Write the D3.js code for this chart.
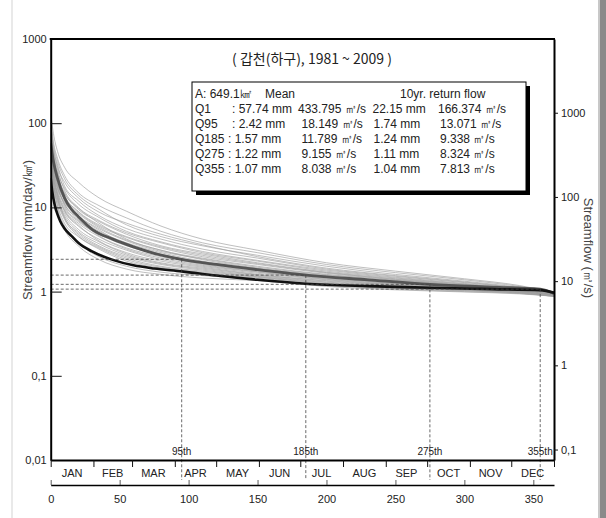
<!DOCTYPE html>
<html><head><meta charset="utf-8">
<script src="https://cdn.jsdelivr.net/npm/d3@7"></script>
<style>body{margin:0;background:#fff;} svg{display:block}</style>
</head><body><svg id="c" width="606" height="518"></svg>
<script>
// ---------------- DATA ----------------
const basinArea = 649.1; // km2
const titleText = "( 갑천(하구), 1981 ~ 2009 )";
const gridDays = [0, 2, 5, 10, 20, 35, 55, 80, 110, 150, 200, 250, 300, 340, 365];
const yearlyCurves = [
  [130, 75, 46, 30, 20, 13, 9.0, 6.0, 4.2, 3.1, 2.2, 1.75, 1.42, 1.18, 0.98],
  [110, 60, 38, 24, 15, 10.5, 7.5, 5.2, 3.8, 2.9, 2.1, 1.68, 1.38, 1.15, 0.97],
  [95, 55, 35, 22, 14, 9.5, 6.2, 4.5, 3.5, 2.7, 2.0, 1.6, 1.33, 1.12, 0.96],
  [88, 50, 30, 20, 13, 8.8, 6.5, 4.8, 3.6, 2.6, 1.9, 1.55, 1.3, 1.1, 0.95],
  [80, 48, 32, 18, 12, 8.0, 5.6, 4.2, 3.2, 2.5, 1.85, 1.52, 1.28, 1.1, 0.95],
  [75, 42, 26, 17, 11, 7.6, 5.2, 3.9, 3.0, 2.35, 1.8, 1.48, 1.25, 1.08, 0.94],
  [72, 45, 28, 16, 10, 7.0, 5.0, 3.8, 2.9, 2.3, 1.75, 1.45, 1.23, 1.07, 0.94],
  [68, 40, 24, 15, 9.5, 6.8, 4.8, 3.5, 2.8, 2.2, 1.7, 1.42, 1.22, 1.06, 0.93],
  [65, 38, 25, 14, 9.0, 6.2, 4.5, 3.4, 2.7, 2.15, 1.68, 1.4, 1.2, 1.05, 0.93],
  [62, 36, 22, 13.5, 8.8, 6.0, 4.4, 3.3, 2.6, 2.1, 1.65, 1.38, 1.19, 1.05, 0.93],
  [60, 33, 21, 14.5, 9.8, 6.5, 4.2, 3.1, 2.5, 2.0, 1.6, 1.36, 1.18, 1.04, 0.92],
  [58, 35, 20, 12, 8.0, 5.6, 4.0, 3.0, 2.45, 1.95, 1.58, 1.34, 1.17, 1.04, 0.92],
  [55, 30, 19, 12.5, 8.5, 5.8, 4.1, 3.1, 2.4, 1.9, 1.55, 1.32, 1.16, 1.03, 0.92],
  [52, 32, 18, 11, 7.5, 5.2, 3.8, 2.9, 2.3, 1.88, 1.52, 1.3, 1.15, 1.03, 0.91],
  [50, 28, 17, 11.5, 7.8, 5.4, 3.6, 2.75, 2.25, 1.85, 1.5, 1.28, 1.14, 1.02, 0.91],
  [48, 30, 19, 10.5, 7.0, 5.0, 3.7, 2.8, 2.2, 1.8, 1.48, 1.27, 1.13, 1.02, 0.91],
  [46, 26, 16, 10, 6.8, 4.8, 3.5, 2.7, 2.15, 1.75, 1.45, 1.25, 1.12, 1.01, 0.9],
  [44, 27, 17, 11, 7.2, 4.6, 3.3, 2.6, 2.1, 1.72, 1.42, 1.24, 1.11, 1.01, 0.9],
  [42, 24, 15, 9.5, 6.5, 4.5, 3.2, 2.5, 2.05, 1.7, 1.4, 1.22, 1.1, 1.0, 0.9],
  [40, 25, 14, 9.0, 6.0, 4.2, 3.1, 2.4, 2.0, 1.65, 1.38, 1.2, 1.09, 1.0, 0.9],
  [38, 22, 14.5, 9.2, 6.2, 4.0, 2.9, 2.3, 1.95, 1.6, 1.35, 1.19, 1.08, 0.99, 0.9],
  [36, 23, 13, 8.5, 5.5, 3.9, 2.8, 2.2, 1.9, 1.58, 1.33, 1.17, 1.07, 0.99, 0.89],
  [35, 20, 12.5, 8.0, 5.2, 3.7, 2.7, 2.15, 1.85, 1.55, 1.3, 1.15, 1.06, 0.98, 0.89],
  [34, 21, 13.5, 7.6, 5.0, 3.5, 2.6, 2.1, 1.8, 1.52, 1.28, 1.14, 1.05, 0.98, 0.89],
  [32, 19, 12, 7.5, 4.8, 3.4, 2.5, 2.0, 1.75, 1.5, 1.25, 1.12, 1.04, 0.97, 0.89],
  [31, 18, 11.5, 7.2, 4.6, 3.3, 2.4, 1.95, 1.7, 1.48, 1.23, 1.1, 1.03, 0.96, 0.88],
  [30, 17, 10.5, 6.5, 4.5, 3.2, 2.3, 1.9, 1.65, 1.45, 1.2, 1.09, 1.02, 0.96, 0.88],
  [45, 20, 10, 6.0, 3.8, 2.6, 2.0, 1.7, 1.55, 1.4, 1.18, 1.07, 1.0, 0.95, 0.88],
  [38, 16, 9.0, 5.5, 3.5, 2.4, 1.85, 1.6, 1.45, 1.35, 1.15, 1.05, 0.99, 0.94, 0.88]
];
const meanDays   = [0, 2, 5, 10, 15, 20, 30, 45, 60, 75, 95, 120, 150, 185, 230, 275, 320, 355, 365];
const meanValues = [57.7, 35, 22, 13, 9.5, 7.8, 5.5, 4.2, 3.4, 2.85, 2.42, 2.1, 1.82, 1.57, 1.38, 1.22, 1.13, 1.07, 0.95];
const rpDays   = [0, 1, 3, 5, 7, 10, 15, 20, 30, 45, 60, 75, 95, 120, 150, 185, 230, 275, 320, 355, 365];
const rpValues = [22.2, 16, 10.5, 8.2, 6.8, 5.6, 4.6, 3.8, 3.0, 2.38, 2.05, 1.88, 1.74, 1.55, 1.38, 1.24, 1.16, 1.11, 1.07, 1.04, 0.97];
const percentileDays = [95, 185, 275, 355];
const percentileLabels = ["95th", "185th", "275th", "355th"];
const percentileMean = [2.42, 1.57, 1.22, 1.07];
const monthNames = ["JAN","FEB","MAR","APR","MAY","JUN","JUL","AUG","SEP","OCT","NOV","DEC"];
const monthStarts = [0, 31, 59, 90, 120, 151, 181, 212, 243, 273, 304, 334, 365];
const dayTickValues = [0, 50, 100, 150, 200, 250, 300, 350];
const leftTickValues = [0.01, 0.1, 1, 10, 100, 1000];
const leftTickLabels = ["0,01", "0,1", "1", "10", "100", "1000"];
const rightTickValues = [0.1, 1, 10, 100, 1000];
const rightTickLabels = ["0,1", "1", "10", "100", "1000"];
const legendHeader = ["A: 649.1㎢", "Mean", "10yr. return flow"];
const legendNames = ["Q1", "Q95", "Q185", "Q275", "Q355"];
const legendMeanMm = [": 57.74 mm", ": 2.42 mm", ": 1.57 mm", ": 1.22 mm", ": 1.07 mm"];
const legendMeanCms = ["433.795 ㎥/s", "18.149 ㎥/s", "11.789 ㎥/s", "9.155 ㎥/s", "8.038 ㎥/s"];
const legendRpMm = ["22.15 mm", "1.74 mm", "1.24 mm", "1.11 mm", "1.04 mm"];
const legendRpCms = ["166.374 ㎥/s", "13.071 ㎥/s", "9.338 ㎥/s", "8.324 ㎥/s", "7.813 ㎥/s"];

// ---------------- CHART ----------------
const svg = d3.select("#c");
const L = 50.7, R = 554, T = 39, B = 460;
const factor = basinArea / 86.4;
const x = d3.scaleLinear([0, 365], [L, R]);
const y = d3.scaleLog([0.01, 1000], [B, T]);
const yR = d3.scaleLog([0.01 * factor, 1000 * factor], [B, T]);
const FONT = "'Liberation Sans', Arial, sans-serif";
const NARROW = "'Liberation Sans Narrow', 'Liberation Sans', Arial, sans-serif";

// frame decorations
svg.append("rect").attr("x", 0).attr("y", 0).attr("width", 606).attr("height", 518).attr("fill", "#fff");
svg.append("line").attr("x1", 12).attr("x2", 12).attr("y1", 0).attr("y2", 518).attr("stroke", "#e2e2e2").attr("stroke-width", 1.5);
svg.append("rect").attr("x", 598).attr("y", 0).attr("width", 8).attr("height", 518).attr("fill", "#8a8a8a");
svg.append("rect").attr("x", 598).attr("y", 0).attr("width", 2).attr("height", 518).attr("fill", "#c8c8c8");

svg.append("defs").append("clipPath").attr("id", "clip")
  .append("rect").attr("x", L).attr("y", T).attr("width", R - L).attr("height", B - T);

const line = (days) => d3.line().x((d, i) => x(days[i])).y(d => y(d)).curve(d3.curveMonotoneX);
const plot = svg.append("g").attr("clip-path", "url(#clip)");

// reference dashed lines
const dashCol = "#444";
percentileDays.forEach((d, i) => {
  svg.append("line").attr("x1", L).attr("x2", x(d)).attr("y1", y(percentileMean[i])).attr("y2", y(percentileMean[i]))
    .attr("stroke", dashCol).attr("stroke-width", 0.8).attr("stroke-dasharray", "3,2");
  svg.append("line").attr("x1", x(d)).attr("x2", x(d)).attr("y1", y(percentileMean[i])).attr("y2", 480)
    .attr("stroke", dashCol).attr("stroke-width", 0.8).attr("stroke-dasharray", "3,2");
});

// yearly curves
plot.selectAll("path.yr").data(yearlyCurves).enter().append("path")
  .attr("d", v => line(gridDays)(v)).attr("fill", "none")
  .attr("stroke", "#a0a0a0").attr("stroke-opacity", 0.75).attr("stroke-width", 0.9);
// mean & 10yr
plot.append("path").attr("d", line(meanDays)(meanValues)).attr("fill", "none").attr("stroke", "#555").attr("stroke-width", 2.8);
plot.append("path").attr("d", line(rpDays)(rpValues)).attr("fill", "none").attr("stroke", "#111").attr("stroke-width", 2.6);

// percentile labels
percentileDays.forEach((d, i) => {
  svg.append("text").attr("x", x(d)).attr("y", 455).attr("text-anchor", "middle")
    .attr("font-family", NARROW).attr("font-size", 10).attr("fill", "#222").text(percentileLabels[i]);
});

// left axis
const minorL = [];
for (let e = -2; e < 3; e++) for (let m = 2; m < 10; m++) minorL.push(m * Math.pow(10, e));
const gL = svg.append("g").attr("transform", `translate(${L},0)`);
gL.call(d3.axisLeft(y).tickValues(minorL).tickSize(-5).tickFormat("").tickSizeOuter(0));
gL.call(d3.axisLeft(y).tickValues(leftTickValues).tickSize(-11).tickPadding(4).tickSizeOuter(0)
  .tickFormat((d, i) => leftTickLabels[i]));
gL.selectAll("text").attr("font-family", NARROW).attr("font-size", 11).attr("fill", "#222");
gL.selectAll("line").attr("stroke", "#111");
gL.selectAll("path.domain").attr("stroke", "#000").attr("stroke-width", 2);

// right axis
const minorR = [0.08, 0.09];
for (let e = -1; e < 3; e++) for (let m = 2; m < 10; m++) minorR.push(m * Math.pow(10, e));
for (let m = 2; m < 8; m++) minorR.push(m * 1000);
const gR = svg.append("g").attr("transform", `translate(${R},0)`);
gR.call(d3.axisRight(yR).tickValues(minorR).tickSize(-5).tickFormat("").tickSizeOuter(0));
gR.call(d3.axisRight(yR).tickValues(rightTickValues).tickSize(-7).tickFormat("").tickSizeOuter(0));
gR.call(d3.axisRight(yR).tickValues(rightTickValues).tickSize(4).tickPadding(3).tickSizeOuter(0)
  .tickFormat((d, i) => rightTickLabels[i]));
gR.selectAll("text").attr("font-family", NARROW).attr("font-size", 11).attr("fill", "#222");
gR.selectAll("line").attr("stroke", "#111");
gR.selectAll("path.domain").attr("stroke", "#000").attr("stroke-width", 2);

// top line
svg.append("line").attr("x1", L - 1).attr("x2", R + 1).attr("y1", T).attr("y2", T).attr("stroke", "#000").attr("stroke-width", 2);

// month axis
const gM = svg.append("g").attr("transform", `translate(0,${B})`);
const monthMinor = [];
monthStarts.slice(0, 12).forEach(s => { monthMinor.push(s + 10, s + 20); });
gM.call(d3.axisBottom(x).tickValues(monthMinor).tickSize(4).tickFormat("").tickSizeOuter(0));
gM.call(d3.axisBottom(x).tickValues(monthStarts).tickSize(7).tickFormat("").tickSizeOuter(0));
gM.selectAll("line").attr("stroke", "#111");
gM.selectAll("path.domain").attr("stroke", "#000").attr("stroke-width", 2);
monthNames.forEach((m, i) => {
  svg.append("text").attr("x", x((monthStarts[i] + monthStarts[i + 1]) / 2)).attr("y", 477)
    .attr("text-anchor", "middle").attr("font-family", NARROW).attr("font-size", 11).attr("fill", "#222").text(m);
});

// day axis
const dayMinor = d3.range(0, 366, 2);
const dayMid = d3.range(10, 366, 10);
const gD = svg.append("g").attr("transform", `translate(0,485)`);
gD.call(d3.axisBottom(x).tickValues(dayMinor).tickSize(-2).tickFormat("").tickSizeOuter(0));
gD.call(d3.axisBottom(x).tickValues(dayMid).tickSize(-3.5).tickFormat("").tickSizeOuter(0));
gD.call(d3.axisBottom(x).tickValues(dayTickValues).tickSize(-5).tickPadding(10).tickSizeOuter(0));
gD.selectAll("text").attr("font-family", NARROW).attr("font-size", 11).attr("fill", "#222");
gD.selectAll("line").attr("stroke", "#333").attr("stroke-width", 0.8);
gD.selectAll("path.domain").attr("stroke", "#000").attr("stroke-width", 1.5);

// axis titles
svg.append("text").attr("transform", "translate(32,230) rotate(-90)").attr("text-anchor", "middle")
  .attr("font-family", FONT).attr("font-size", 13).attr("fill", "#444").text("Streamflow (mm/day/㎢)");
svg.append("text").attr("transform", "translate(584,248) rotate(90)").attr("text-anchor", "middle")
  .attr("font-family", FONT).attr("font-size", 13).attr("fill", "#444").text("Streamflow (㎥/s)");

// title
svg.append("text").attr("x", 312).attr("y", 64).attr("text-anchor", "middle")
  .attr("font-family", "'Noto Sans CJK KR', sans-serif").attr("font-size", 14).attr("fill", "#222").text(titleText);

// legend box
svg.append("rect").attr("x", 196).attr("y", 86).attr("width", 334).attr("height", 109).attr("fill", "#000");
svg.append("rect").attr("x", 192).attr("y", 82).attr("width", 334).attr("height", 109)
  .attr("fill", "#fff").attr("stroke", "#000").attr("stroke-width", 1);
const lg = svg.append("g").attr("font-family", FONT).attr("font-size", 12).attr("fill", "#222");
const rowY = [97.5, 112.5, 127.5, 142.5, 157.5, 172.5];
lg.append("text").attr("x", 195).attr("y", rowY[0]).text(legendHeader[0]);
lg.append("text").attr("x", 265).attr("y", rowY[0]).text(legendHeader[1]);
lg.append("text").attr("x", 400).attr("y", rowY[0]).text(legendHeader[2]);
legendNames.forEach((n, i) => {
  const yy = rowY[i + 1];
  lg.append("text").attr("x", 195).attr("y", yy).text(n);
  lg.append("text").attr("x", i < 2 ? 232 : 228).attr("y", yy).text(legendMeanMm[i]);
  lg.append("text").attr("x", i === 0 ? 298 : 301.5).attr("y", yy).text(legendMeanCms[i]);
  lg.append("text").attr("x", i === 0 ? 372.5 : 373.5).attr("y", yy).text(legendRpMm[i]);
  lg.append("text").attr("x", i === 0 ? 438 : 440).attr("y", yy).text(legendRpCms[i]);
});
</script></body></html>
